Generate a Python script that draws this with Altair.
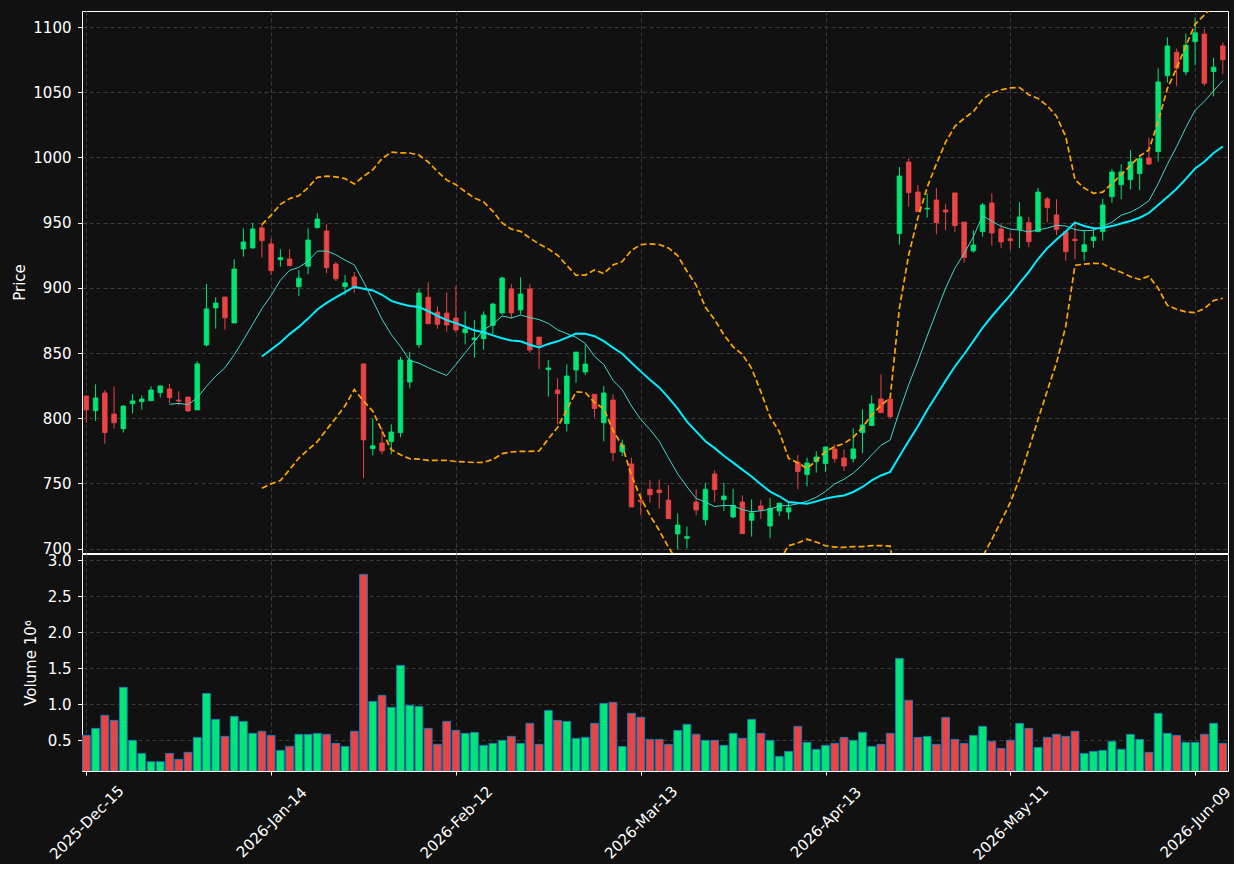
import altair as alt
import pandas as pd

opens = [817.1, 805.8, 819.4, 803.3, 792.0, 811.2, 812.7, 813.5, 819.6, 822.5,
         814.0, 816.3, 806.4, 856.2, 884.6, 893.0, 873.1, 929.8, 930.6, 946.0,
         933.7, 921.6, 922.2, 900.9, 916.6, 946.2, 943.6, 918.3, 900.9, 908.4,
         841.7, 776.8, 781.1, 782.1, 789.0, 827.8, 856.4, 892.8, 881.5, 880.7,
         876.9, 865.6, 860.3, 861.0, 871.3, 880.8, 899.2, 883.1, 899.2, 862.3,
         837.3, 821.7, 795.9, 837.0, 835.5, 818.4, 796.6, 814.0, 774.4, 765.0,
         737.3, 745.6, 745.0, 737.3, 711.3, 708.0, 735.8, 722.2, 757.3, 737.6,
         724.3, 735.8, 721.8, 732.8, 717.4, 728.9, 728.1, 766.3, 756.8, 766.7,
         765.2, 776.5, 769.6, 769.0, 789.0, 794.4, 814.8, 814.8, 941.6, 996.5,
         973.5, 960.5, 967.4, 959.7, 972.8, 950.5, 928.3, 943.1, 965.1, 945.2,
         937.6, 944.9, 950.0, 943.1, 968.2, 955.9, 943.1, 937.3, 927.8, 936.2,
         943.1, 970.0, 979.1, 983.0, 987.6, 999.6, 1004.5, 1062.7, 1080.7, 1065.6,
         1088.8, 1094.6, 1065.9, 1085.5]
highs = [817.5, 826.0, 821.5, 824.5, 810.0, 818.4, 817.6, 824.5, 825.0, 826.3,
         820.7, 816.5, 843.7, 903.0, 892.8, 893.0, 922.0, 945.7, 949.8, 948.8,
         937.7, 929.6, 929.6, 913.5, 945.7, 957.2, 948.8, 919.9, 909.9, 912.2,
         841.7, 800.0, 792.8, 795.4, 847.0, 851.0, 899.4, 904.3, 885.9, 896.6,
         901.5, 882.0, 875.2, 882.0, 888.6, 908.6, 902.8, 908.1, 902.8, 862.3,
         844.7, 830.7, 841.4, 850.8, 856.7, 818.4, 824.8, 818.4, 783.6, 769.8,
         743.0, 752.5, 753.0, 748.6, 727.1, 716.9, 745.6, 750.6, 760.1, 750.6,
         746.0, 741.0, 737.9, 737.3, 738.7, 735.0, 735.0, 771.9, 769.8, 774.7,
         778.0, 780.0, 776.2, 792.3, 806.9, 817.6, 833.7, 814.8, 992.7, 999.3,
         978.7, 972.5, 976.4, 964.1, 972.8, 950.5, 944.2, 965.1, 972.5, 948.8,
         942.3, 965.6, 954.4, 976.6, 969.7, 968.0, 943.1, 950.8, 944.2, 945.0,
         968.4, 991.2, 994.8, 1005.6, 1001.4, 1015.2, 1068.4, 1092.2, 1083.5, 1095.0,
         1107.2, 1098.4, 1076.5, 1088.1]
lows = [796.6, 798.0, 780.5, 792.0, 789.0, 803.8, 806.6, 813.3, 815.8, 811.7,
        810.0, 805.0, 806.4, 854.9, 868.7, 868.0, 873.0, 923.9, 930.0, 923.2,
        909.9, 916.3, 917.0, 893.6, 910.4, 945.4, 911.2, 905.3, 894.8, 896.3,
        754.0, 771.6, 772.4, 772.4, 785.4, 823.0, 853.9, 872.1, 868.7, 866.4,
        865.6, 856.7, 846.5, 852.6, 864.4, 879.2, 876.4, 879.8, 850.3, 837.6,
        816.6, 795.4, 790.0, 827.3, 833.2, 800.5, 782.4, 767.0, 771.0, 732.0,
        725.6, 735.3, 730.7, 723.0, 699.5, 700.3, 725.6, 717.9, 735.8, 728.9,
        723.3, 711.5, 709.2, 722.8, 708.0, 725.0, 722.5, 745.6, 747.9, 758.3,
        758.8, 766.0, 759.6, 766.0, 773.2, 794.4, 804.3, 800.0, 933.1, 962.3,
        958.4, 953.8, 941.1, 944.2, 942.6, 919.3, 927.0, 939.3, 932.4, 930.4,
        929.3, 930.4, 931.1, 943.1, 950.3, 940.4, 920.9, 921.9, 920.9, 930.8,
        936.2, 965.3, 968.0, 975.6, 974.8, 994.0, 996.8, 1057.4, 1054.6, 1063.0,
        1070.7, 1054.8, 1046.9, 1063.8]
closes = [806.4, 815.6, 789.0, 796.6, 809.4, 813.3, 814.8, 821.7, 824.8, 815.8,
          813.3, 805.6, 841.7, 883.9, 888.4, 877.0, 914.5, 935.2, 945.2, 936.2,
          913.2, 923.2, 917.0, 907.4, 936.7, 952.8, 915.5, 907.0, 903.8, 899.7,
          783.4, 778.9, 775.0, 789.5, 844.7, 844.7, 896.1, 872.5, 872.1, 871.5,
          867.7, 868.5, 861.6, 879.2, 887.6, 907.6, 880.8, 895.3, 852.4, 856.2,
          838.6, 818.9, 832.4, 850.8, 841.6, 807.4, 819.4, 773.6, 779.5, 732.0,
          736.0, 741.4, 743.0, 723.0, 718.2, 709.2, 729.7, 745.6, 745.3, 740.4,
          733.3, 711.5, 727.4, 729.7, 731.0, 735.0, 731.4, 759.1, 765.7, 770.3,
          778.0, 769.0, 763.4, 776.5, 794.9, 811.0, 804.3, 801.2, 985.8, 973.0,
          958.4, 961.1, 950.0, 958.2, 947.7, 923.2, 932.9, 963.6, 942.1, 935.2,
          936.2, 954.4, 935.4, 973.5, 961.5, 944.7, 927.8, 936.2, 933.1, 939.0,
          963.6, 988.9, 988.9, 996.6, 999.1, 995.0, 1057.9, 1085.5, 1068.4, 1086.1,
          1095.6, 1056.8, 1069.2, 1075.0]
volumes = [0.569, 0.666, 0.847, 0.777, 1.236, 0.500, 0.319, 0.203, 0.203, 0.319,
           0.236, 0.333, 0.541, 1.152, 0.791, 0.555, 0.833, 0.763, 0.597, 0.625,
           0.569, 0.361, 0.416, 0.583, 0.583, 0.597, 0.583, 0.458, 0.416, 0.625,
           2.805, 1.041, 1.125, 0.958, 1.541, 0.986, 0.972, 0.666, 0.444, 0.763,
           0.638, 0.597, 0.611, 0.430, 0.458, 0.500, 0.555, 0.458, 0.736, 0.444,
           0.916, 0.777, 0.763, 0.527, 0.541, 0.736, 1.013, 1.027, 0.416, 0.875,
           0.819, 0.513, 0.513, 0.444, 0.638, 0.722, 0.583, 0.500, 0.500, 0.430,
           0.597, 0.527, 0.791, 0.597, 0.500, 0.277, 0.347, 0.694, 0.472, 0.375,
           0.430, 0.458, 0.541, 0.500, 0.611, 0.416, 0.444, 0.597, 1.638, 1.055,
           0.541, 0.555, 0.444, 0.819, 0.513, 0.458, 0.569, 0.694, 0.486, 0.388,
           0.500, 0.736, 0.666, 0.402, 0.541, 0.583, 0.555, 0.625, 0.319, 0.347,
           0.361, 0.486, 0.375, 0.583, 0.513, 0.333, 0.875, 0.597, 0.569, 0.472,
           0.472, 0.583, 0.736, 0.458]
tick_index = [0, 20, 40, 60, 80, 100, 120]
tick_labels = ["2025-Dec-15", "2026-Jan-14", "2026-Feb-12", "2026-Mar-13",
               "2026-Apr-13", "2026-May-11", "2026-Jun-09"]

df = pd.DataFrame({
    "i": list(range(len(closes))),
    "open": opens, "high": highs, "low": lows, "close": closes, "vol": volumes,
})

FONT = "DejaVu Sans"
FS = 15
BG = "#111111"
GRID = "#3a3a3a"
CANDLE_UP, CANDLE_DN = "#00e676", "#ea4444"
VOL_UP, VOL_DN = "#00ff80", "#ff4545"

W = 1146
PH = 542
VH = 217

xscale = alt.Scale(domain=[-0.47, 123.56], nice=False, zero=False)
pscale = alt.Scale(domain=[696.7, 1112.3], nice=False, zero=False)
vscale = alt.Scale(domain=[0.074, 3.088], nice=False, zero=False)

js_labels = "[" + ",".join("'%s'" % s for s in tick_labels) + "]"
js_idx = "[" + ",".join(str(v) for v in tick_index) + "]"
label_expr = f"{js_labels}[indexof({js_idx}, datum.value)]"

x_price_axis = alt.Axis(values=tick_index, labels=False, ticks=False, domain=False,
                        title=None, grid=True, minExtent=0, maxExtent=0, offset=0)
x_vol_axis = alt.Axis(values=tick_index, labelExpr=label_expr, labelAngle=315,
                      labelAlign="center", labelBaseline="middle", labelPadding=47,
                      tickSize=4, domain=False, title=None, grid=True,
                      labelOverlap=False, labelFlush=False, labelBound=False)
y_price_axis = alt.Axis(values=list(range(700, 1101, 50)), format="d", title="Price",
                        titleX=-63, titleY=PH / 2, titleAngle=270,
                        titleAlign="center", titleBaseline="middle",
                        tickSize=4.5, labelPadding=6.5, domain=False, grid=True,
                        labelOverlap=False, labelFlush=False, labelBound=False)
y_vol_axis = alt.Axis(values=[0.5, 1.0, 1.5, 2.0, 2.5, 3.0], format=".1f",
                      title="Volume  10\u2076", titleX=-52, titleY=VH / 2,
                      titleAngle=270, titleAlign="center", titleBaseline="middle",
                      tickSize=4.5, labelPadding=6.5, domain=False, grid=True,
                      labelOverlap=False, labelFlush=False, labelBound=False)

base = alt.Chart(df).transform_calculate(
    dir="datum.close >= datum.open ? 'up' : 'down'"
)

candle_color = alt.Color("dir:N", scale=alt.Scale(domain=["up", "down"],
                                                   range=[CANDLE_UP, CANDLE_DN]),
                         legend=None)
candle_stroke = alt.Stroke("dir:N", scale=alt.Scale(domain=["up", "down"],
                                                     range=[CANDLE_UP, CANDLE_DN]),
                           legend=None)

wicks = base.mark_rule(strokeWidth=1, clip=True).encode(
    x=alt.X("i:Q", scale=xscale, axis=x_price_axis),
    y=alt.Y("low:Q", scale=pscale, axis=y_price_axis),
    y2="high:Q",
    color=candle_color,
)

bodies = base.transform_calculate(
    x0="datum.i - 0.25", x1="datum.i + 0.25"
).mark_bar(strokeWidth=0.8, clip=True).encode(
    x=alt.X("x0:Q", scale=xscale, axis=x_price_axis),
    x2="x1:Q",
    y=alt.Y("open:Q", scale=pscale, axis=y_price_axis),
    y2="close:Q",
    color=candle_color,
    stroke=candle_stroke,
)

ma10 = alt.Chart(df).transform_window(
    ma10="mean(close)", c10="count()", frame=[-9, 0], sort=[alt.SortField("i")]
).transform_filter("datum.c10 >= 10").mark_line(
    color="#40d8c8", strokeWidth=1, clip=True
).encode(
    x=alt.X("i:Q", scale=xscale, axis=x_price_axis),
    y=alt.Y("ma10:Q", scale=pscale, axis=y_price_axis),
)

boll = alt.Chart(df).transform_window(
    ma20="mean(close)", sd20="stdevp(close)", c20="count()", frame=[-19, 0],
    sort=[alt.SortField("i")]
).transform_filter("datum.c20 >= 20").transform_calculate(
    upper="datum.ma20 + 2 * datum.sd20", lower="datum.ma20 - 2 * datum.sd20"
)

ma20 = boll.mark_line(color="#00eeff", strokeWidth=2, clip=True).encode(
    x=alt.X("i:Q", scale=xscale, axis=x_price_axis),
    y=alt.Y("ma20:Q", scale=pscale, axis=y_price_axis),
)
upper = boll.mark_line(color="#ffa500", strokeWidth=1.7, strokeDash=[6, 3],
                       clip=True).encode(
    x=alt.X("i:Q", scale=xscale, axis=x_price_axis),
    y=alt.Y("upper:Q", scale=pscale, axis=y_price_axis),
)
lower = boll.mark_line(color="#ffa500", strokeWidth=1.7, strokeDash=[6, 3],
                       clip=True).encode(
    x=alt.X("i:Q", scale=xscale, axis=x_price_axis),
    y=alt.Y("lower:Q", scale=pscale, axis=y_price_axis),
)

price = alt.layer(wicks, bodies, ma10, ma20, upper, lower).properties(
    width=W, height=PH)

vol = base.transform_calculate(
    x0="datum.i - 0.42", x1="datum.i + 0.42"
).mark_bar(stroke="#1f77b4", strokeWidth=1, clip=True).encode(
    x=alt.X("x0:Q", scale=xscale, axis=x_vol_axis),
    x2="x1:Q",
    y=alt.Y("vol:Q", scale=vscale, axis=y_vol_axis),
    y2=alt.datum(0),
    color=alt.Color("dir:N", scale=alt.Scale(domain=["up", "down"],
                                             range=[VOL_UP, VOL_DN]), legend=None),
).properties(width=W, height=VH)

chart = alt.vconcat(price, vol, spacing=1, bounds="flush").properties(
    background=BG,
    padding={"left": 11, "top": 10, "right": 0, "bottom": 0},
).configure_view(
    stroke="white", strokeWidth=1, fill=BG
).configure_axis(
    labelColor="white", titleColor="white", tickColor="white",
    labelFont=FONT, titleFont=FONT, labelFontSize=FS, titleFontSize=FS,
    titleFontWeight="normal", gridColor=GRID, gridDash=[4, 3], gridWidth=1,
    tickWidth=1,
)

chart.save("out.html", embed_options={"renderer": "svg", "actions": False})
